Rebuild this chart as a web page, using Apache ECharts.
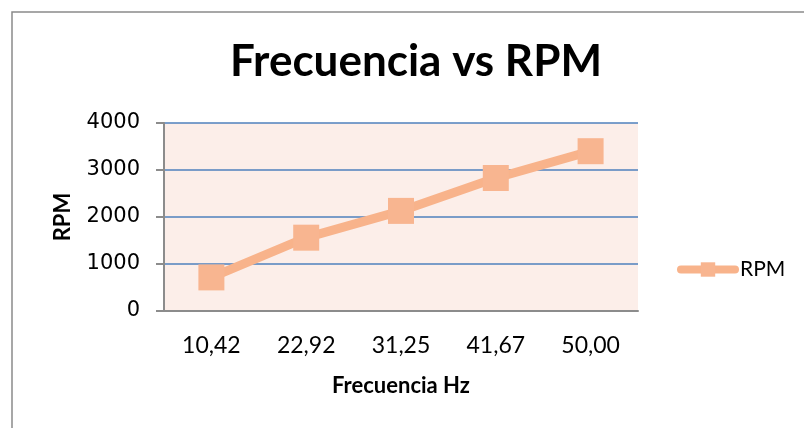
<!DOCTYPE html>
<html>
<head>
<meta charset="utf-8">
<script src="https://cdn.jsdelivr.net/npm/echarts@6/dist/echarts.min.js"></script>
<style>
  html, body { margin: 0; padding: 0; background: #fff; }
  #main { width: 804px; height: 428px; }
</style>
</head>
<body>
<div id="main"></div>
<script>
var frecuencias = ['10,42', '22,92', '31,25', '41,67', '50,00'];
var rpm = [715, 1560, 2130, 2830, 3400];
var yTicks = [0, 1000, 2000, 3000, 4000];

var myChart = echarts.init(document.getElementById('main'));
var option = {
    backgroundColor: '#ffffff',
    graphic: [{
        type: 'rect',
        shape: { x: 12, y: 12, width: 900, height: 600 },
        style: { fill: 'none', stroke: '#8a8a8a', lineWidth: 1.5 },
        silent: true
    }],
    title: {
        text: 'Frecuencia vs RPM',
        left: 225,
        top: 35,
        textStyle: { fontFamily: 'Lato', fontWeight: 'bold', fontSize: 44, color: '#000' }
    },
    legend: {
        data: ['RPM'],
        left: 672,
        top: 254,
        itemWidth: 54,
        itemHeight: 18,
        itemGap: 4,
        lineStyle: { width: 8, cap: 'round', color: '#F8B38B' },
        textStyle: { fontFamily: 'Lato', fontSize: 21, color: '#000' }
    },
    grid: {
        left: 164,
        right: 166,
        top: 123,
        bottom: 117,
        show: true,
        backgroundColor: '#FCEEE9',
        borderWidth: 0
    },
    xAxis: {
        type: 'category',
        data: frecuencias,
        boundaryGap: true,
        name: 'Frecuencia Hz',
        nameLocation: 'middle',
        nameGap: 64,
        nameTextStyle: { fontFamily: 'Lato', fontWeight: 'bold', fontSize: 22, color: '#000' },
        axisLine: { lineStyle: { color: '#8c8c8c', width: 2 } },
        axisTick: { show: false },
        axisLabel: { fontFamily: 'Lato', fontSize: 23, color: '#000', margin: 23 }
    },
    yAxis: {
        type: 'value',
        min: yTicks[0],
        max: yTicks[yTicks.length - 1],
        interval: 1000,
        name: 'RPM',
        nameLocation: 'middle',
        nameGap: 90,
        nameTextStyle: { fontFamily: 'Lato', fontWeight: 'bold', fontSize: 22, color: '#000' },
        axisLine: { show: true, lineStyle: { color: '#8c8c8c', width: 2 } },
        axisTick: { show: true, length: 8, lineStyle: { color: '#8c8c8c', width: 2 } },
        axisLabel: {
            fontFamily: 'DejaVu Sans',
            fontSize: 21,
            color: '#000',
            margin: 24,
            formatter: function (v) { return String(v); }
        },
        splitLine: { show: true, lineStyle: { color: '#4F81BD', width: 1.5 } }
    },
    series: [{
        name: 'RPM',
        type: 'line',
        data: rpm,
        symbol: 'rect',
        symbolSize: 26,
        showAllSymbol: true,
        itemStyle: { color: '#F8B590' },
        lineStyle: { color: '#F8B38B', width: 9 },
        animation: false
    }]
};
myChart.setOption(option);
</script>
</body>
</html>
